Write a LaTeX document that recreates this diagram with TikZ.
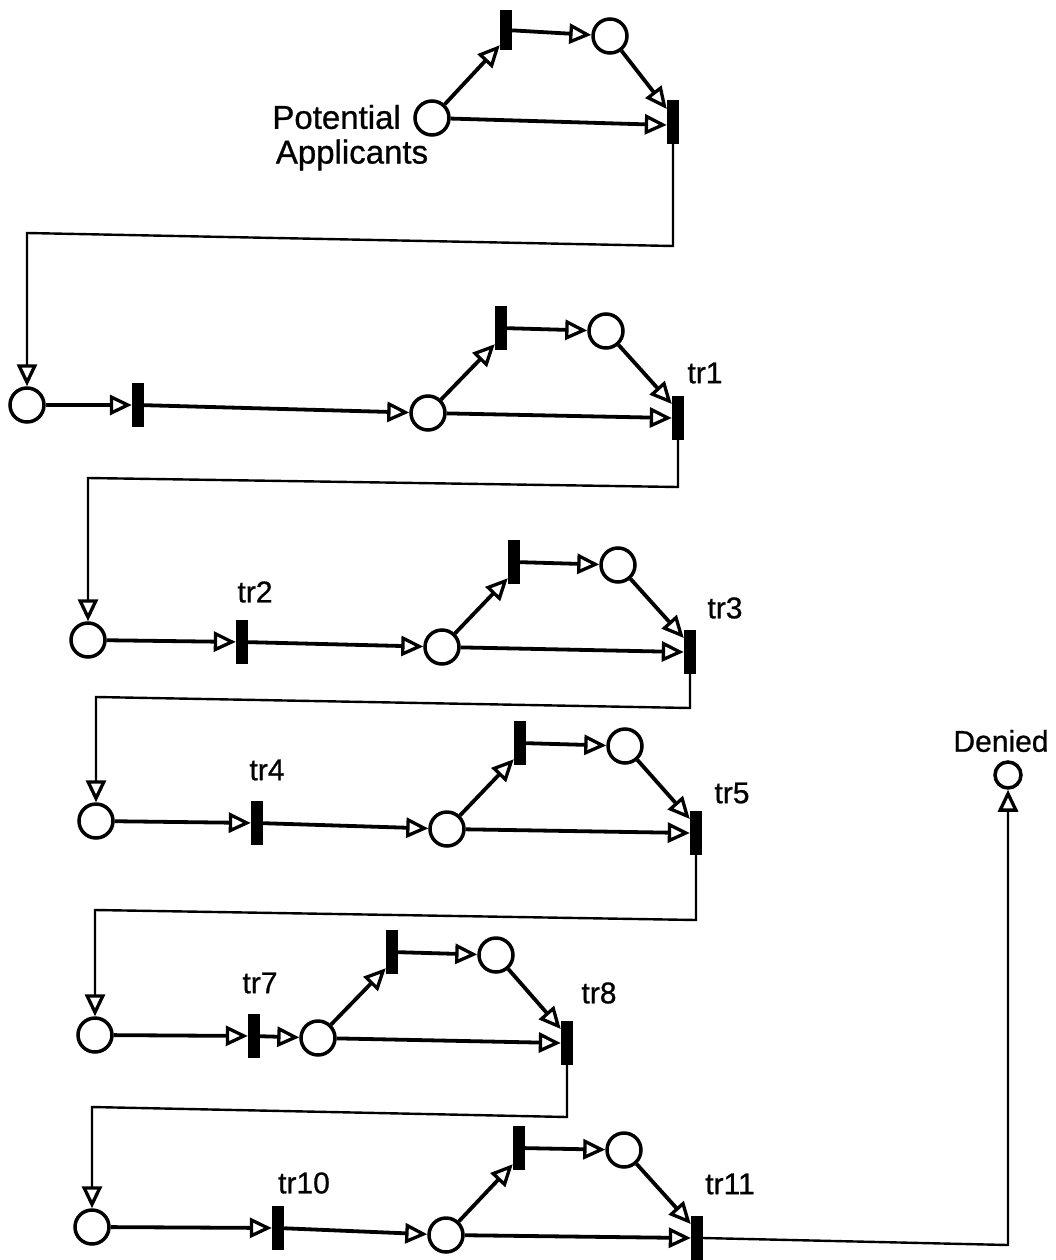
\documentclass[tikz,border=0pt]{standalone}
\usepackage{fontspec}
\setmainfont[FakeBold=0.8]{Liberation Sans}
\usetikzlibrary{arrows.meta}
\begin{document}
\begin{tikzpicture}[x=1pt,y=-1pt,
  place/.style={circle,draw,line width=3.5pt,minimum size=34pt,inner sep=0pt,fill=white},
  trans/.style={rectangle,fill=black,minimum width=12pt,minimum height=44pt,inner sep=0pt},
  arc/.style={line width=3.8pt,-{Triangle[open,length=22pt,width=20pt,line width=3.3pt]}},
  retarr/.style={line width=2.4pt,-{Triangle[open,length=22pt,width=20pt,line width=3.3pt]}},
  lbl/.style={font=\fontsize{30}{34}\selectfont,inner sep=0pt},
  biglbl/.style={font=\fontsize{33}{38}\selectfont,inner sep=0pt}
  ]
\useasboundingbox (0,0) rectangle (1055,1260);

% ---------- section 0
\node[place] (PA) at (432,118) {};
\node[trans,minimum height=40pt] (T0a) at (506,30) {};
\node[place] (U0) at (610,36) {};
\node[trans] (T0b) at (673,122) {};
\node[biglbl,anchor=east] (potl) at (401,117) {Potential};
\node[biglbl] (appl) at (352,155) {Applicants};
\draw[arc] (PA) -- ([yshift=5pt]T0a.south west);
\draw[arc] (T0a) -- (U0);
\draw[arc] (U0) -- ([yshift=13pt]T0b.west);
\draw[arc] (PA) -- ([yshift=-3pt]T0b.west);

% ---------- section 1
\node[place] (P1) at (27,405) {};
\node[trans] (T1a) at (138,405) {};
\node[place] (P1b) at (428,413) {};
\node[trans] (T1u) at (501,328) {};
\node[place] (U1) at (606,331) {};
\node[trans] (tr1) at (678,418) {};
\node[lbl] (ltr1) at (705,373) {tr1};
\draw[arc] (P1) -- (T1a);
\draw[arc] (T1a) -- (P1b);
\draw[arc] (P1b) -- ([yshift=6pt]T1u.south west);
\draw[arc] (T1u) -- (U1);
\draw[arc] (U1) -- ([yshift=14pt]tr1.west);
\draw[arc] (P1b) -- (tr1.west);
\coordinate (c0a) at (673,246);
\coordinate (c0b) at (27,233);
\draw[retarr] (T0b.south) -- (c0a) -- (c0b) -- (P1.north);

% ---------- section 2
\node[place] (P2) at (88,640) {};
\node[trans] (tr2) at (242,642) {};
\node[place] (P2b) at (442,647) {};
\node[trans] (T2u) at (514,562) {};
\node[place] (U2) at (618,565) {};
\node[trans] (tr3) at (690,652) {};
\node[lbl] (ltr2) at (255,592) {tr2};
\node[lbl] (ltr3) at (725,608) {tr3};
\draw[arc] (P2) -- (tr2);
\draw[arc] (tr2) -- (P2b);
\draw[arc] (P2b) -- ([yshift=6pt]T2u.south west);
\draw[arc] (T2u) -- (U2);
\draw[arc] (U2) -- ([yshift=14pt]tr3.west);
\draw[arc] (P2b) -- (tr3.west);
\coordinate (c1a) at (678,487);
\coordinate (c1b) at (88,478);
\draw[retarr] (tr1.south) -- (c1a) -- (c1b) -- (P2.north);

% ---------- section 3
\node[place] (P3) at (96,821) {};
\node[trans] (tr4) at (257,823) {};
\node[place] (P3b) at (447,829) {};
\node[trans] (T3u) at (520,743) {};
\node[place] (U3) at (625,746) {};
\node[trans] (tr5) at (696,833) {};
\node[lbl] (ltr4) at (267,770) {tr4};
\node[lbl] (ltr5) at (732,793) {tr5};
\draw[arc] (P3) -- (tr4);
\draw[arc] (tr4) -- (P3b);
\draw[arc] (P3b) -- ([yshift=6pt]T3u.south west);
\draw[arc] (T3u) -- (U3);
\draw[arc] (U3) -- ([yshift=14pt]tr5.west);
\draw[arc] (P3b) -- (tr5.west);
\coordinate (c2a) at (690,708);
\coordinate (c2b) at (96,697);
\draw[retarr] (tr3.south) -- (c2a) -- (c2b) -- (P3.north);

% ---------- section 4
\node[place] (P4) at (95,1035) {};
\node[trans] (tr7) at (254,1036) {};
\node[place] (P4b) at (318,1038) {};
\node[trans] (T4u) at (392,952) {};
\node[place] (U4) at (496,955) {};
\node[trans] (tr8) at (567,1043) {};
\node[lbl] (ltr7) at (260,983) {tr7};
\node[lbl] (ltr8) at (599,993) {tr8};
\draw[arc] (P4) -- (tr7);
\draw[arc] (tr7) -- (P4b);
\draw[arc] (P4b) -- ([yshift=6pt]T4u.south west);
\draw[arc] (T4u) -- (U4);
\draw[arc] (U4) -- ([yshift=14pt]tr8.west);
\draw[arc] (P4b) -- (tr8.west);
\coordinate (c3a) at (696,920);
\coordinate (c3b) at (95,910);
\draw[retarr] (tr5.south) -- (c3a) -- (c3b) -- (P4.north);

% ---------- section 5
\node[place] (P5) at (92,1227) {};
\node[trans] (tr10) at (278,1228) {};
\node[place] (P5b) at (446,1235) {};
\node[trans] (T5u) at (519,1148) {};
\node[place] (U5) at (624,1150) {};
\node[trans] (tr11) at (697,1238) {};
\node[lbl] (ltr10) at (304,1183) {tr10};
\node[lbl] (ltr11) at (730,1184) {tr11};
\draw[arc] (P5) -- (tr10);
\draw[arc] (tr10) -- (P5b);
\draw[arc] (P5b) -- ([yshift=6pt]T5u.south west);
\draw[arc] (T5u) -- (U5);
\draw[arc] (U5) -- ([yshift=14pt]tr11.west);
\draw[arc] (P5b) -- (tr11.west);
\coordinate (c4a) at (567,1117);
\coordinate (c4b) at (92,1107);
\draw[retarr] (tr8.south) -- (c4a) -- (c4b) -- (P5.north);

% ---------- denied
\node[place,minimum size=26pt] (Den) at (1008,775) {};
\node[lbl] (lden) at (1001,741) {Denied};
\coordinate (c5) at (1008,1245);
\draw[retarr] (tr11.east) -- (c5) -- (Den.south);
\end{tikzpicture}
\end{document}
